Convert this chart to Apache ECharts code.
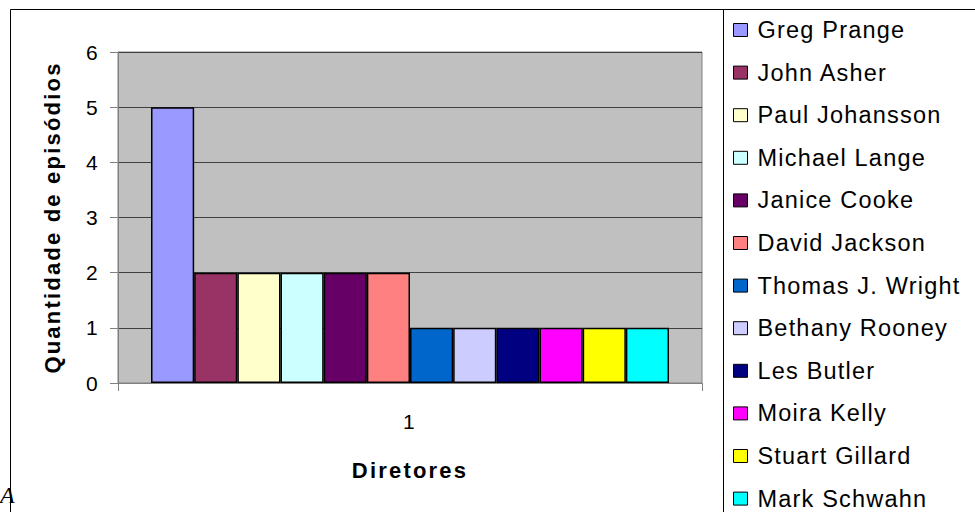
<!DOCTYPE html>
<html>
<head>
<meta charset="utf-8">
<script src="https://cdn.jsdelivr.net/npm/echarts@6/dist/echarts.min.js"></script>
<style>
  html, body { margin: 0; padding: 0; background: #ffffff; }
  #chart { width: 975px; height: 512px; }
  /* wide, spreadsheet-style glyph spacing for axis labels and titles */
  #chart text { letter-spacing: 2.2px; }
</style>
</head>
<body>
<div id="chart"></div>
<script>
// Episode counts per director
const categories = ['1'];
const directors = [
  'Greg Prange', 'John Asher', 'Paul Johansson', 'Michael Lange',
  'Janice Cooke', 'David Jackson', 'Thomas J. Wright', 'Bethany Rooney',
  'Les Butler', 'Moira Kelly', 'Stuart Gillard', 'Mark Schwahn'
];
const episodes = [5, 2, 2, 2, 2, 2, 1, 1, 1, 1, 1, 1];
const colors = [
  '#9999FF', '#993366', '#FFFFCC', '#CCFFFF',
  '#660066', '#FF8080', '#0066CC', '#CCCCFF',
  '#000080', '#FF00FF', '#FFFF00', '#00FFFF'
];
const yTicks = [0, 1, 2, 3, 4, 5, 6];

const FONT = '"Liberation Sans", Arial, sans-serif';

const chart = echarts.init(document.getElementById('chart'), null, { renderer: 'svg' });

const series = directors.map((name, i) => ({
  name: name,
  type: 'bar',
  data: [episodes[i]],
  barGap: '0%',
  barCategoryGap: '11.3%',
  itemStyle: { color: colors[i], borderColor: '#000000', borderWidth: 1.5 },
  emphasis: { disabled: true }
}));

chart.setOption({
  animation: false,
  backgroundColor: '#ffffff',
  color: colors,
  grid: {
    left: 118, right: 273, top: 52, bottom: 129,
    show: true, backgroundColor: '#C0C0C0', borderColor: '#808080', borderWidth: 1
  },
  xAxis: {
    type: 'category',
    data: categories,
    name: 'Diretores',
    nameLocation: 'middle',
    nameGap: 76,
    nameTextStyle: { fontFamily: FONT, fontSize: 22, fontWeight: 'bold', color: '#000' },
    axisLine: { show: true, lineStyle: { color: '#808080', width: 1 } },
    axisTick: { show: true, length: 8, lineStyle: { color: '#808080' } },
    axisLabel: { fontFamily: FONT, fontSize: 21, color: '#000', margin: 28 },
    splitLine: { show: false }
  },
  yAxis: {
    type: 'value',
    min: yTicks[0],
    max: yTicks[yTicks.length - 1],
    interval: 1,
    name: 'Quantidade de episódios',
    nameLocation: 'middle',
    nameRotate: 90,
    nameGap: 55,
    nameTextStyle: { fontFamily: FONT, fontSize: 22, fontWeight: 'bold', color: '#000' },
    axisLine: { show: true, lineStyle: { color: '#808080', width: 1 } },
    axisTick: { show: true, length: 8, lineStyle: { color: '#808080' } },
    axisLabel: { fontFamily: FONT, fontSize: 21, color: '#000', margin: 18 },
    splitLine: { show: true, lineStyle: { color: '#404040', width: 1 } }
  },
  legend: {
    orient: 'vertical',
    left: 733,
    top: 18,
    height: 520,
    padding: 0,
    itemWidth: 14,
    itemHeight: 13,
    itemGap: 18.6,
    icon: 'rect',
    selectedMode: false,
    data: directors,
    itemStyle: { borderColor: '#000000', borderWidth: 1 },
    textStyle: { fontFamily: FONT, fontSize: 23.5, color: '#000', lineHeight: 24, padding: [0, 0, 0, 5] }
  },
  graphic: [
    {
      type: 'text', left: 0, top: 483, z: 0,
      style: { text: 'A', font: 'italic 24px "Liberation Serif", serif', fill: '#000' }
    },
    {
      type: 'rect', z: 10, silent: true,
      shape: { x: 10.5, y: 9.5, width: 1000, height: 600 },
      style: { fill: 'none', stroke: '#000000', lineWidth: 1 }
    },
    {
      type: 'line', z: 10, silent: true,
      shape: { x1: 723.5, y1: 9.5, x2: 723.5, y2: 512 },
      style: { stroke: '#000000', lineWidth: 1 }
    }
  ],
  series: series
});

// legend names use a slightly tighter glyph spacing than the axis texts
function tightenLegendText() {
  document.querySelectorAll('#chart text').forEach(t => {
    if (directors.indexOf(t.textContent) >= 0) t.style.letterSpacing = '1.2px';
  });
}
tightenLegendText();
chart.on('finished', tightenLegendText);
</script>
</body>
</html>
